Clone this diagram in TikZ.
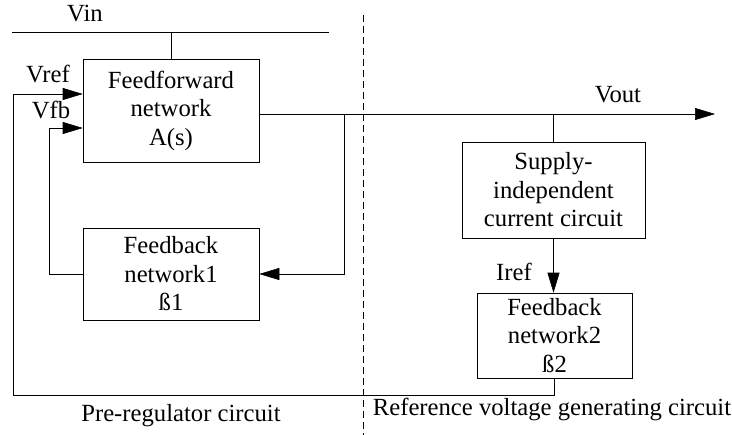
\documentclass[tikz,border=0pt]{standalone}
\usepackage{fontspec}
\setmainfont{Liberation Serif}
\usepackage{tikz}
\usetikzlibrary{arrows.meta}

\begin{document}
\begin{tikzpicture}[x=0.75pt,y=-0.75pt,
    blk/.style={draw,thin,align=center,inner sep=0pt,font=\fontsize{18.5}{21.4}\selectfont},
    lbl/.style={anchor=base,inner sep=0pt,font=\fontsize{18.5}{21.4}\selectfont},
    sig/.style={-{Triangle[length=15pt,width=9pt]}},
    every path/.style={thin}]
  \useasboundingbox (0,0) rectangle (732,435);
  % blocks
  \node[blk,minimum width=132pt,minimum height=77.25pt] (ff) at (171,110.5) {Feedforward\\network\\A(s)};
  \node[blk,minimum width=132pt,minimum height=69pt] (fb1) at (171,274) {Feedback\\network1\\ß1};
  \node[blk,minimum width=137.25pt,minimum height=72pt] (sup) at (553.5,190) {Supply-\\independent\\current circuit};
  \node[blk,minimum width=116.25pt,minimum height=63.75pt] (fb2) at (554.5,335.5) {Feedback\\network2\\ß2};
  % helper points
  \coordinate (vinl) at (12,32);
  \coordinate (vinr) at (329,32);
  \coordinate (vref) at (13,94);
  \coordinate (vfb) at (49,128);
  \coordinate (bot) at (13,395);
  \coordinate (tap) at (344,114);
  \coordinate (vout) at (715,114);
  \coordinate (dtop) at (363,15);
  \coordinate (dbot) at (363,435);
  % wires
  \draw (vinl) -- (vinr);
  \draw (ff.north) -- (ff.north |- vinl);
  \draw[sig] (fb2.south) |- (bot) -- (vref) -- (vref -| ff.west);
  \draw[sig] (fb1.west) -| (vfb) -- (vfb -| ff.west);
  \draw[sig] (ff.east |- vout) -- (vout);
  \draw[sig] (tap) |- (fb1.east);
  \draw (sup.north |- vout) -- (sup.north);
  \draw[sig] (sup.south) -- (sup.south |- fb2.north);
  \draw[dash pattern=on 5.25pt off 3pt] (dtop) -- (dbot);
  % labels
  \node[lbl] (lvin) at (85,21.5) {Vin};
  \node[lbl] (lvref) at (48,83) {Vref};
  \node[lbl] (lvfb) at (51,118) {Vfb};
  \node[lbl] (lvout) at (618,103) {Vout};
  \node[lbl] (liref) at (514,280) {Iref};
  \node[lbl] (lpre) at (181,421) {Pre-regulator circuit};
  \node[lbl] (lref) at (552,415) {Reference voltage generating circuit};
\end{tikzpicture}
\end{document}
